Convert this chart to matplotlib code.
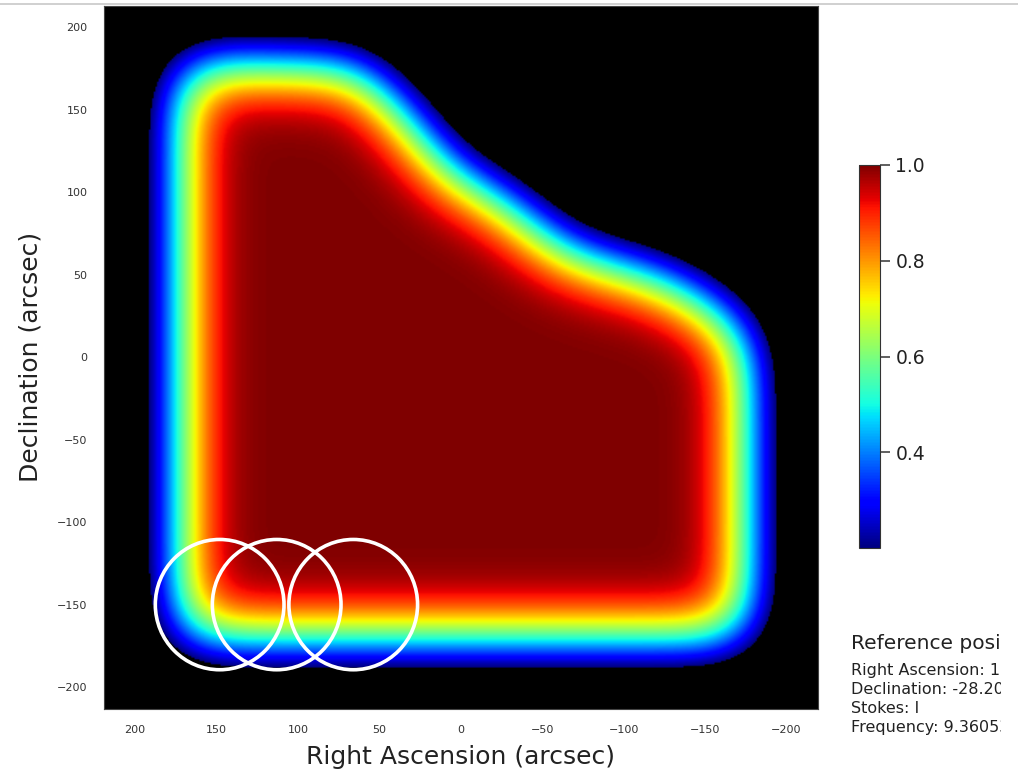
import numpy as np
import matplotlib
matplotlib.use("Agg")
import matplotlib.pyplot as plt
from matplotlib.path import Path
from matplotlib.patches import Circle, Rectangle
from matplotlib.lines import Line2D

# ---- data ----
# half-power (0.5) outline of the mosaic coverage, (RA, Dec) in arcsec
boundary_ra = [174, 174, 64, 44, 24, 2, -19, -39, -56, -80, -100, -121, -141, -161, -176, -177]
boundary_dec = [-172, 178, 176, 158, 134, 108, 100, 85, 69, 58, 54, 48, 38, 26, 10, -172]
beam_sigma = 20.0          # arcsec, edge roll-off
cutoff = 0.2               # values below are blanked (black)
# white primary-beam circles
circle_ra = [148, 113, 66]
circle_dec = [-150, -150, -150]
circle_radius = 39.5
xticks = [200, 150, 100, 50, 0, -50, -100, -150, -200]
yticks = [200, 150, 100, 50, 0, -50, -100, -150, -200]
cbar_ticks = [0.4, 0.6, 0.8, 1.0]
info_title = "Reference position:"
info_lines = ["Right Ascension: 1 h 45 m 40.04 s",
              "Declination: -28.2000",
              "Stokes: I",
              "Frequency: 9.36053e+10 Hz"]

# ---- build coverage map ----
half = 512
coords = np.arange(-half, half).astype(float)
X, Y = np.meshgrid(coords, coords)
poly = Path(np.column_stack([boundary_ra, boundary_dec]))
mask = poly.contains_points(np.column_stack([X.ravel(), Y.ravel()])).reshape(X.shape).astype(float)
kern = np.exp(-(X**2 + Y**2) / (2 * beam_sigma**2))
kern /= kern.sum()
kern = np.fft.ifftshift(kern)
cov = np.real(np.fft.ifft2(np.fft.fft2(mask) * np.fft.fft2(kern)))
cov /= cov.max()
sel = (coords >= -225) & (coords <= 225)
sub = cov[np.ix_(sel, sel)]
xs = coords[sel]
img = np.ma.masked_less(sub, cutoff)

# ---- figure ----
W, H = 1018, 776
fig = plt.figure(figsize=(W / 100, H / 100), dpi=100)
ax = fig.add_axes([104 / W, 1 - 708.5 / H, 713.5 / W, 702.5 / H])
cmap = plt.get_cmap("jet").copy()
cmap.set_bad("black")
ax.set_facecolor("black")
im = ax.imshow(img, origin="lower", cmap=cmap, vmin=cutoff, vmax=1.0,
               extent=[xs[0] - 0.5, xs[-1] + 0.5, xs[0] - 0.5, xs[-1] + 0.5],
               interpolation="bilinear", aspect="auto")
ax.set_xlim(219, -219)
ax.set_ylim(-213, 213)

for ra, dec in zip(circle_ra, circle_dec):
    ax.add_patch(Circle((ra, dec), circle_radius, fill=False, edgecolor="white", lw=2.6))

ax.set_xticks(xticks)
ax.set_yticks(yticks)
ax.tick_params(length=0, pad=12, labelsize=8, labelcolor="#333333")
ax.set_xlabel("Right Ascension (arcsec)", fontsize=18, color="#222222", labelpad=7)
ax.set_ylabel("Declination (arcsec)", fontsize=18, color="#222222", labelpad=10)
for s in ax.spines.values():
    s.set_color("#444444")

cax = fig.add_axes([858.5 / W, 1 - 548 / H, 21.5 / W, 383 / H])
cb = fig.colorbar(im, cax=cax, ticks=cbar_ticks)
cb.ax.tick_params(length=7, width=1.2, pad=4, labelsize=13.5, labelcolor="#222222", color="#444444")
cb.ax.set_yticklabels(["%.1f" % t for t in cbar_ticks])
cb.outline.set_edgecolor("#333333")

fig.text(851 / W, 1 - 649 / H, info_title, fontsize=14.5, color="#222222", va="baseline")
for i, line in enumerate(info_lines):
    fig.text(851 / W, 1 - (675 + 19 * i) / H, line, fontsize=11.5, color="#222222", va="baseline")

# notebook output clipping and top rule of the screenshot
fig.add_artist(Rectangle((1001 / W, 0), 1, 1, transform=fig.transFigure,
                         facecolor="white", edgecolor="none", zorder=10))
fig.add_artist(Line2D([0, 1], [1 - 4 / H, 1 - 4 / H], transform=fig.transFigure,
                      color="#c8c8c8", lw=1.2, zorder=11))

fig.savefig("out.png", dpi=100)
